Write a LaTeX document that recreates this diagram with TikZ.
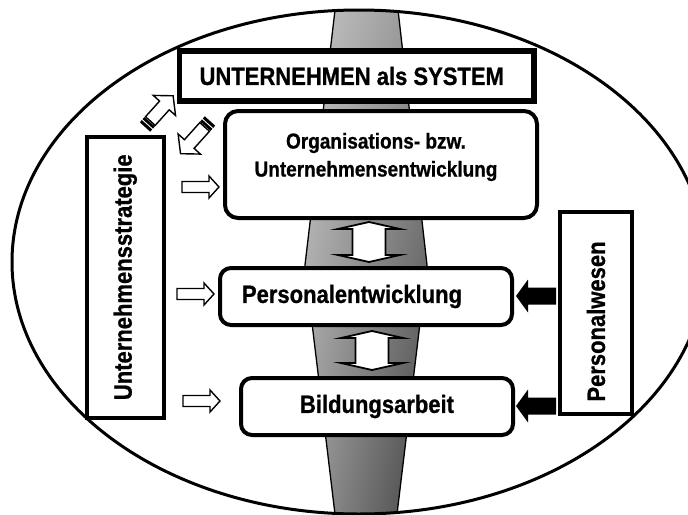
\documentclass[tikz,border=0pt]{standalone}
\usepackage{fontspec}
\setmainfont{Liberation Sans}[FakeStretch=0.88, BoldFeatures={FakeBold=0.8}]
\usetikzlibrary{shadings}
\begin{document}
\begin{tikzpicture}[x=1pt,y=-1pt,
  box/.style={draw, fill=white, line width=4pt, inner sep=0pt,
    font=\fontsize{25}{30}\selectfont\bfseries},
  rbox/.style={box, rounded corners=11pt},
  hol/.style={draw, fill=white, line width=1.4pt, line join=miter},
  hollowR/.pic={\draw[hol] (0,-5.5) -- (27,-5.5) -- (27,-11) -- (37,0) -- (27,11) -- (27,5.5) -- (0,5.5) -- cycle;},
  blackL/.pic={\fill[black] (0,-8.5) -- (-28,-8.5) -- (-28,-16.5) -- (-40,0) -- (-28,16.5) -- (-28,8.5) -- (0,8.5) -- cycle;},
  dblV/.pic={\draw[hol, line width=1.8pt] (0,-#1) -- (31,-#1+7) -- (16.5,-#1+7) -- (16.5,#1-7) -- (31,#1-7) -- (0,#1) -- (-31,#1-7) -- (-16.5,#1-7) -- (-16.5,-#1+7) -- (-31,-#1+7) -- cycle;},
  striped/.pic={
    \fill[black] (0,-7) rectangle (3,7);
    \fill[black] (4.2,-7) rectangle (7,7);
    \draw[hol] (8,-6.5) -- (#1-13,-6.5) -- (#1-13,-15) -- (#1,0) -- (#1-13,15) -- (#1-13,6.5) -- (8,6.5) -- cycle;}
]
\clip (0,0) rectangle (688,514);
% grey column
\begin{scope}
  \clip (359,262) ellipse [x radius=347pt, y radius=252pt];
  \shade[upper left=black!22, upper right=black!42, lower left=black!40, lower right=black!74]
    (336.2,0) -- (396.9,0) -- (427,265) -- (396.3,520) -- (335.7,520) -- (305,265) -- cycle;
  \draw[line width=1.3pt] (336.2,0) -- (305,265) -- (335.7,520);
  \draw[line width=1.3pt] (396.9,0) -- (427,265) -- (396.3,520);
\end{scope}
% outer ellipse
\draw[line width=3pt] (359,262) ellipse [x radius=347pt, y radius=252pt];

% boxes
\node[box, line width=5.5pt, minimum width=354.5pt, minimum height=50pt] (sys) at (356.75,76) {\kern-10pt UNTERNEHMEN als SYSTEM};
\node[rbox, rounded corners=13pt, minimum width=312pt, minimum height=107pt] (org) at (381,164.5) {};
\node[font=\fontsize{21.6}{28}\selectfont\bfseries, align=center, inner sep=0pt] (orgtext) at (376,157) {Organisations- bzw.\\Unternehmensentwicklung};
\node[rbox, minimum width=292pt, minimum height=57pt] (pe) at (366,296.5) {\kern-28pt Personalentwicklung};
\node[rbox, minimum width=272pt, minimum height=57pt] (bild) at (377,406.5) {Bildungsarbeit};
\node[box, rotate=90, minimum width=281.5pt, minimum height=77.5pt] (strat) at (125.25,277.25) {Unternehmensstrategie};
\node[box, rotate=90, minimum width=202pt, minimum height=72pt] (pw) at (596,313) {\kern-17pt Personalwesen};

% arrows
\pic at (182,187) {hollowR};
\pic at (177,294) {hollowR};
\pic at (183,401) {hollowR};
\pic at (556,296) {blackL};
\pic at (556,406) {blackL};
\pic at (369,242) {dblV=20};
\pic at (372,350.5) {dblV=19.5};
\pic[rotate=48] at (145,127) {striped=42};
\pic[rotate=228] at (210,121) {striped=44};
\end{tikzpicture}
\end{document}
